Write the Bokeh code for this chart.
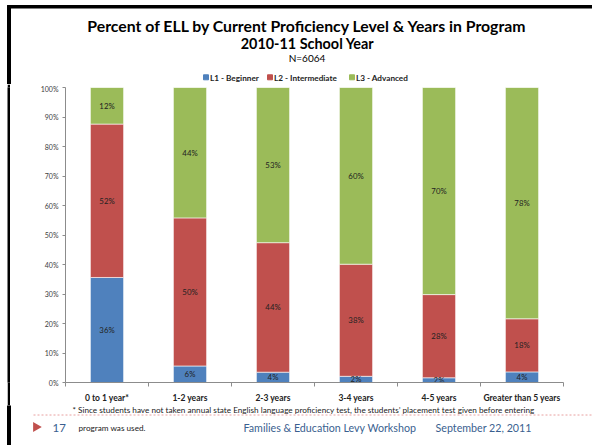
import math
from bokeh.plotting import figure
from bokeh.layouts import column, row
from bokeh.models import ColumnDataSource, Range1d, FixedTicker, LinearAxis, PrintfTickFormatter, Spacer
from bokeh.core.properties import value
from bokeh.embed import file_html
from bokeh.resources import INLINE

# ---------------- data ----------------
categories = ["0 to 1 year*", "1-2 years", "2-3 years", "3-4 years", "4-5 years", "Greater than 5 years"]
series_names = ["L1 - Beginner", "L2 - Intermediate", "L3 - Advanced"]
l1_beginner = [35.6, 5.6, 3.5, 2.1, 1.6, 3.6]
l2_intermediate = [52.0, 50.2, 43.9, 38.0, 28.2, 18.0]
l3_advanced = [12.4, 44.2, 52.6, 59.9, 70.2, 78.4]
y_ticks = [0, 10, 20, 30, 40, 50, 60, 70, 80, 90, 100]

colors = ["#4F81BD", "#C0504D", "#9BBB59"]
FONT = "Lato"
W = 592
TOP_H, CHART_H = 84, 321
BOT_H = 445 - TOP_H - CHART_H
RULE_X, RULE_W = 7, 3
BASELINE_SHIFT = 0.3  # em; the text glyph sits this much lower than the given y


def blank(width, height, y0, y1, fill=None):
    f = figure(width=width, height=height, x_range=Range1d(0, width), y_range=Range1d(y1, y0),
               min_border=0, output_backend="svg", toolbar_location=None,
               x_axis_type=None, y_axis_type=None, title=None)
    f.outline_line_color = None
    f.xgrid.visible = False
    f.ygrid.visible = False
    f.border_fill_color = fill
    f.background_fill_color = fill
    return f


def txt(f, t, X, Y, size, style="normal", color="#000000", align="left"):
    px = float(size.replace("px", ""))
    f.text(x=[X], y=[Y - BASELINE_SHIFT * px], text=[t], text_font=value(FONT), text_font_size=size,
           text_font_style=style, text_color=color, text_align=align, text_baseline="alphabetic")


# ---------------- top: titles + legend ----------------
top = blank(W, TOP_H, 0, TOP_H, "white")
top.quad(left=[RULE_X], right=[W], top=[5], bottom=[7.5], color="black")
top.quad(left=[RULE_X], right=[RULE_X + RULE_W], top=[5], bottom=[TOP_H], color="black")
txt(top, "Percent of ELL by Current Proficiency Level & Years in Program", 307, 30, "15.8px", "bold", align="center")
txt(top, "2010-11 School Year", 307, 47, "14.4px", "bold", align="center")
txt(top, "N=6064", 306.5, 60.5, "10px", align="center")

legend_x = [203, 267, 349]
for name, c, lx in zip(series_names, colors, legend_x):
    top.quad(left=[lx], right=[lx + 5], top=[74.3], bottom=[79.3], color=c)
    txt(top, name, lx + 6.5, 80, "8.2px", "bold", color="#222222")

# ---------------- middle: rule strip + chart ----------------
rule = blank(RULE_W, CHART_H, 0, CHART_H, "black")

xs = [i + 0.5 for i in range(len(categories))]
source = ColumnDataSource(dict(x=xs, L1=l1_beginner, L2=l2_intermediate, L3=l3_advanced))

CHART_W = W - RULE_X - RULE_W
p = figure(width=CHART_W, height=CHART_H,
           min_border_left=65 - RULE_X - RULE_W, min_border_right=CHART_W - (65 - RULE_X - RULE_W) - 498,
           min_border_top=3, min_border_bottom=21,
           x_range=Range1d(0, len(categories)), y_range=Range1d(0, 100),
           output_backend="svg", toolbar_location=None, title=None,
           x_axis_type=None, y_axis_type=None)
p.outline_line_color = None
p.xgrid.visible = False
p.ygrid.visible = False
p.background_fill_color = "white"
p.border_fill_color = "white"

p.vbar_stack(["L1", "L2", "L3"], x="x", width=0.4, color=colors,
             line_color="white", line_width=0.6, source=source)

lx_, ly_, lt_ = [], [], []
for i, x in enumerate(xs):
    base = 0.0
    for vals in (l1_beginner, l2_intermediate, l3_advanced):
        v = vals[i]
        lx_.append(x)
        ly_.append(base + v / 2.0)
        lt_.append(f"{v:.0f}%")
        base += v
p.text(x=lx_, y=ly_, text=lt_, text_align="center", text_baseline="middle",
       text_font_size="7.8px", text_color="#222222", text_font=value(FONT))

xaxis = LinearAxis(ticker=FixedTicker(ticks=xs, minor_ticks=list(range(len(categories) + 1))))
xaxis.major_label_overrides = {x: c for x, c in zip(xs, categories)}
xaxis.major_tick_in = 0
xaxis.major_tick_out = 0
xaxis.minor_tick_in = 0
xaxis.minor_tick_out = 4
xaxis.minor_tick_line_color = "#8c8c8c"
xaxis.axis_line_color = "#8c8c8c"
xaxis.major_label_text_font = FONT
xaxis.major_label_text_font_style = "bold"
xaxis.major_label_text_font_size = "8.5px"
xaxis.major_label_text_color = "#222222"
xaxis.major_label_standoff = 6
p.add_layout(xaxis, "below")

yaxis = LinearAxis(ticker=FixedTicker(ticks=y_ticks), formatter=PrintfTickFormatter(format="%d%%"))
yaxis.major_tick_in = 0
yaxis.major_tick_out = 3
yaxis.minor_tick_line_color = None
yaxis.major_tick_line_color = "#8c8c8c"
yaxis.axis_line_color = "#8c8c8c"
yaxis.major_label_text_font = FONT
yaxis.major_label_text_font_size = "7px"
yaxis.major_label_text_color = "#404040"
yaxis.major_label_standoff = 4
p.add_layout(yaxis, "left")

# ---------------- bottom: footnote + footer ----------------
Y0 = TOP_H + CHART_H
bot = blank(W, BOT_H, Y0, Y0 + BOT_H, "white")
bot.quad(left=[RULE_X], right=[RULE_X + RULE_W], top=[Y0], bottom=[Y0 + BOT_H], color="black")
txt(bot, "* Since students have not taken annual state English language proficiency test, the students\u2019 placement test given before entering",
    72, 411.5, "8.2px", color="#222222")
bot.segment(x0=[33], y0=[414.5], x1=[W], y1=[414.5], line_color="#E8A0A0", line_width=1, line_dash="2 2")
txt(bot, "program was used.", 78, 430, "8.2px", color="#222222")
bot.scatter(x=[35.5], y=[426.5], marker="triangle", size=10, angle=-math.pi / 2,
            fill_color="#C0504D", line_color=None)
txt(bot, "17", 52, 430.5, "11.5px", color="#3A5F8F")
txt(bot, "Families & Education Levy Workshop", 243, 430.5, "10.7px", color="#3A5F8F")
txt(bot, "September 22, 2011", 435, 430.5, "10.7px", color="#3A5F8F")

middle = row(Spacer(width=RULE_X, height=CHART_H), rule, p, spacing=0)
layout = column(top, middle, bot, spacing=0)
open("out.html", "w").write(file_html(layout, INLINE))
